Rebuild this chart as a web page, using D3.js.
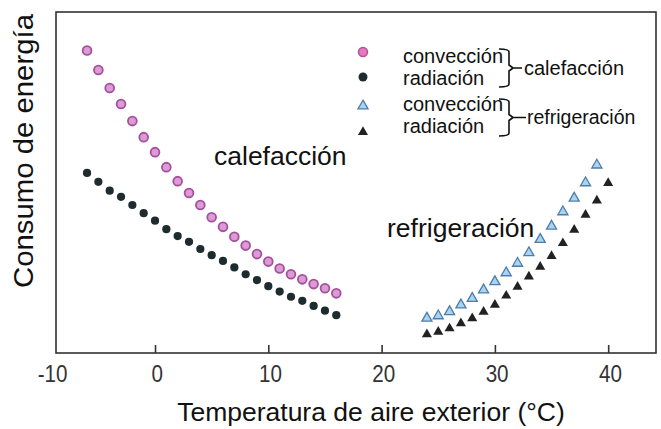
<!DOCTYPE html>
<html>
<head>
<meta charset="utf-8">
<script src="https://cdn.jsdelivr.net/npm/d3@7"></script>
<style>
  body { margin: 0; background: #fff; }
  text { font-family: "Liberation Sans", Arial, sans-serif; }
</style>
</head>
<body>
<div class="chart"></div>
<script>
// Data (energy in arbitrary units, 0-100 along the plot height)
var heatTemps = [-6, -5, -4, -3, -2, -1, 0, 1, 2, 3, 4, 5, 6, 7, 8, 9, 10, 11, 12, 13, 14, 15, 16];
var heatConv = [88.7, 83.0, 77.7, 73.0, 68.0, 63.3, 58.9, 54.5, 50.4, 46.9, 43.4, 39.8, 37.0, 34.1, 31.5, 29.0, 26.8, 24.8, 23.1, 21.6, 20.2, 19.0, 17.5];
var heatRad = [52.8, 50.2, 47.6, 45.8, 43.4, 41.0, 38.8, 36.3, 34.3, 32.6, 30.5, 28.7, 27.0, 25.1, 23.1, 21.4, 19.6, 18.0, 16.5, 15.3, 13.8, 12.4, 11.1];

var coolConvTemps = [24, 25, 26, 27, 28, 29, 30, 31, 32, 33, 34, 35, 36, 37, 38, 39];
var coolConv = [10.2, 10.9, 12.1, 14.1, 16.0, 18.5, 20.9, 23.5, 26.3, 29.4, 33.3, 37.2, 41.4, 45.4, 49.9, 55.1];
var coolRadTemps = [24, 25, 26, 27, 28, 29, 30, 31, 32, 33, 34, 35, 36, 37, 38, 39, 40];
var coolRad = [5.5, 6.2, 7.2, 8.7, 10.2, 12.1, 14.1, 16.8, 19.4, 22.4, 25.3, 28.4, 32.2, 36.1, 40.5, 44.7, 49.8];

var xTicks = [-10, 0, 10, 20, 30, 40];
var legendLabels = ["convección", "radiación", "convección", "radiación"];
var groupLabels = ["calefacción", "refrigeración"];

// SVG area
var svgWidth = 661;
var svgHeight = 429;

var chartMargin = { top: 12, right: 5, bottom: 76, left: 56 };
var width = svgWidth - chartMargin.left - chartMargin.right;
var height = svgHeight - chartMargin.top - chartMargin.bottom;

var svg = d3.select(".chart")
  .append("svg")
  .attr("width", svgWidth)
  .attr("height", svgHeight);

var chartGroup = svg.append("g")
  .attr("transform", `translate(${chartMargin.left}, ${chartMargin.top})`);

// scales
var xLinearScale = d3.scaleLinear()
  .domain([-8.74, 44.22])
  .range([0, width]);

var yLinearScale = d3.scaleLinear()
  .domain([0, 100])
  .range([height, 0]);

// frame
chartGroup.append("rect")
  .attr("x", 0)
  .attr("y", 0)
  .attr("width", width)
  .attr("height", height)
  .attr("fill", "none")
  .attr("stroke", "#333")
  .attr("stroke-width", 1.6);

// bottom axis, ticks pointing inward
var bottomAxis = d3.axisBottom(xLinearScale)
  .tickValues(xTicks)
  .tickFormat(d => String(d))
  .tickSizeInner(-8)
  .tickSizeOuter(0)
  .tickPadding(12);

var xAxis = chartGroup.append("g")
  .attr("transform", `translate(0, ${height})`)
  .call(bottomAxis);

xAxis.select(".domain").remove();
xAxis.selectAll("line").attr("stroke", "#333").attr("stroke-width", 1.6);
xAxis.selectAll("line").filter(d => d === -10).remove();
xAxis.selectAll("text")
  .attr("font-size", "24px")
  .attr("font-family", "'Liberation Sans', Arial, sans-serif")
  .attr("fill", "#333")
  .attr("dy", "0.71em")
  .attr("transform", "scale(0.86,1)")
  .attr("x", d => d === -10 ? 12 : 2);

// series
var heatConvData = heatTemps.map((t, i) => ({ t: t, v: heatConv[i] }));
var heatRadData = heatTemps.map((t, i) => ({ t: t, v: heatRad[i] }));
var coolConvData = coolConvTemps.map((t, i) => ({ t: t, v: coolConv[i] }));
var coolRadData = coolRadTemps.map((t, i) => ({ t: t, v: coolRad[i] }));

var pink = { fill: "#dc9bd3", stroke: "#a5509f" };
var dark = { fill: "#1f2c2f" };
var lightBlue = { fill: "#a9d4f0", stroke: "#4d7cab" };

chartGroup.selectAll(".heatRad")
  .data(heatRadData)
  .enter()
  .append("circle")
  .attr("class", "heatRad")
  .attr("cx", d => xLinearScale(d.t))
  .attr("cy", d => yLinearScale(d.v))
  .attr("r", 4.1)
  .attr("fill", dark.fill);

chartGroup.selectAll(".heatConv")
  .data(heatConvData)
  .enter()
  .append("circle")
  .attr("class", "heatConv")
  .attr("cx", d => xLinearScale(d.t))
  .attr("cy", d => yLinearScale(d.v))
  .attr("r", 4.4)
  .attr("fill", pink.fill)
  .attr("stroke", pink.stroke)
  .attr("stroke-width", 1.8);

var triangle = d3.symbol().type(d3.symbolTriangle).size(44);

chartGroup.selectAll(".coolRad")
  .data(coolRadData)
  .enter()
  .append("path")
  .attr("class", "coolRad")
  .attr("d", triangle)
  .attr("transform", d => `translate(${xLinearScale(d.t)}, ${yLinearScale(d.v)})`)
  .attr("fill", "#222");

chartGroup.selectAll(".coolConv")
  .data(coolConvData)
  .enter()
  .append("path")
  .attr("class", "coolConv")
  .attr("d", triangle)
  .attr("transform", d => `translate(${xLinearScale(d.t)}, ${yLinearScale(d.v)})`)
  .attr("fill", lightBlue.fill)
  .attr("stroke", lightBlue.stroke)
  .attr("stroke-width", 1.3);

// in-plot labels
svg.append("text")
  .attr("x", 214)
  .attr("y", 165)
  .attr("font-size", "26.5px")
  .attr("fill", "#111")
  .text(groupLabels[0]);

svg.append("text")
  .attr("x", 387)
  .attr("y", 237)
  .attr("font-size", "26.5px")
  .attr("fill", "#111")
  .text(groupLabels[1]);

// legend
var legendX = 363;
var legendRows = [52, 77, 106, 132];
var legendBase = [63, 85, 111, 133];

svg.append("circle").attr("cx", legendX).attr("cy", legendRows[0]).attr("r", 4.5)
  .attr("fill", "#e07cc0").attr("stroke", "#c04a98").attr("stroke-width", 1.5);
svg.append("circle").attr("cx", legendX).attr("cy", legendRows[1]).attr("r", 4.5)
  .attr("fill", dark.fill);
svg.append("path").attr("d", triangle)
  .attr("transform", `translate(${legendX}, ${legendRows[2]})`)
  .attr("fill", lightBlue.fill).attr("stroke", lightBlue.stroke).attr("stroke-width", 1.3);
svg.append("path").attr("d", triangle)
  .attr("transform", `translate(${legendX}, ${legendRows[3]})`)
  .attr("fill", "#222");

svg.selectAll(".legendText")
  .data(legendLabels)
  .enter()
  .append("text")
  .attr("class", "legendText")
  .attr("x", 403)
  .attr("y", (d, i) => legendBase[i])
  .attr("font-size", "20px")
  .attr("fill", "#111")
  .text(d => d);

// brackets
function brace(top, bottom, tipX) {
  var mid = (top + bottom) / 2;
  return `M499,${top} Q509,${top} 509,${top + 3} V${mid - 3} L513,${mid} H${tipX}` +
    ` M513,${mid} L509,${mid + 3} V${bottom - 3} Q509,${bottom} 499,${bottom}`;
}

svg.append("path")
  .attr("d", brace(49, 87, 522))
  .attr("fill", "none")
  .attr("stroke", "#111")
  .attr("stroke-width", 1.6);

svg.append("path")
  .attr("d", brace(99, 136, 526))
  .attr("fill", "none")
  .attr("stroke", "#111")
  .attr("stroke-width", 1.6);

svg.append("text")
  .attr("x", 524)
  .attr("y", 75)
  .attr("font-size", "20px")
  .attr("fill", "#111")
  .text(groupLabels[0]);

svg.append("text")
  .attr("x", 527)
  .attr("y", 124)
  .attr("font-size", "19.5px")
  .attr("fill", "#111")
  .text(groupLabels[1]);

// axis titles
svg.append("text")
  .attr("text-anchor", "middle")
  .attr("x", 371)
  .attr("y", 421)
  .attr("font-size", "26.5px")
  .attr("fill", "#111")
  .text("Temperatura de aire exterior (°C)");

svg.append("text")
  .attr("text-anchor", "middle")
  .attr("transform", "translate(33, 151) rotate(-90)")
  .attr("font-size", "27px")
  .attr("fill", "#111")
  .attr("textLength", 274)
  .attr("lengthAdjust", "spacingAndGlyphs")
  .text("Consumo de energía");
</script>
</body>
</html>
